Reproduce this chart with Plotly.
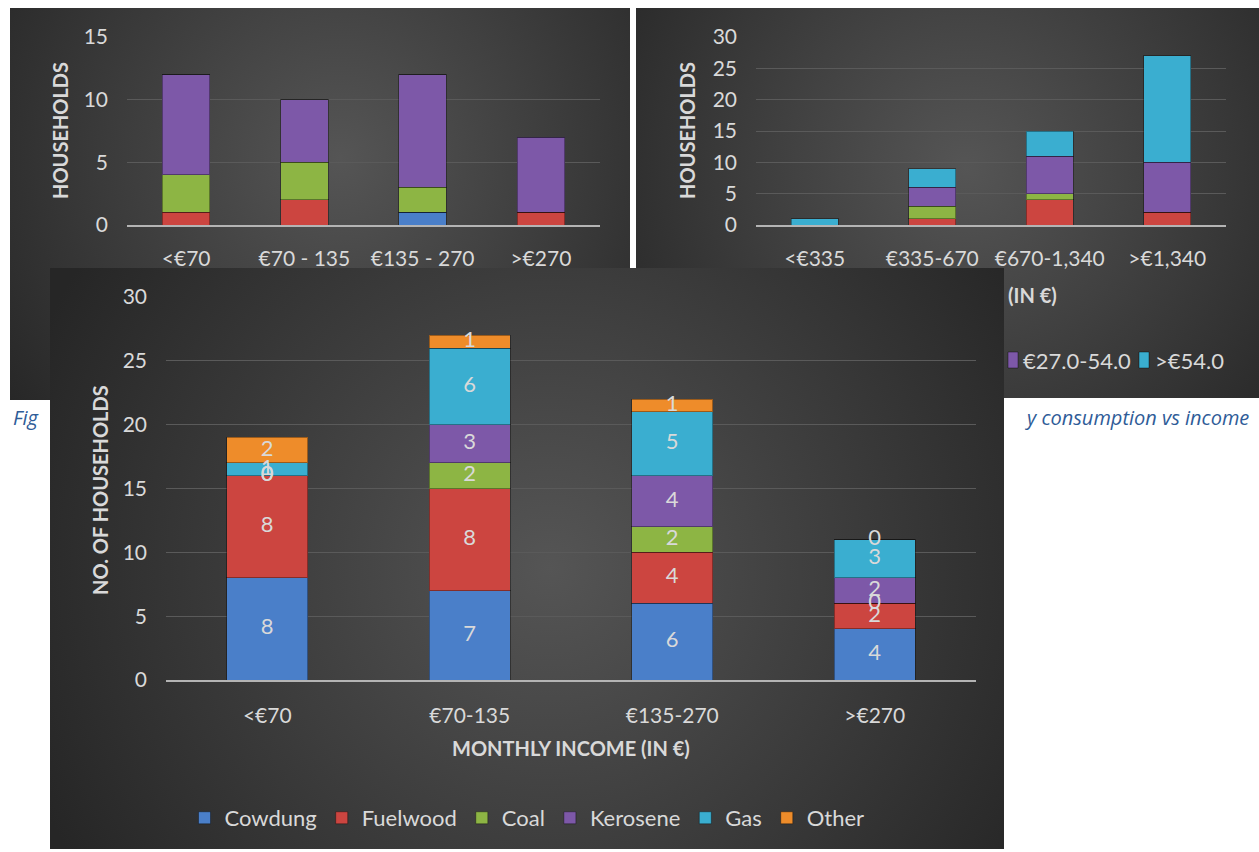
import base64
import plotly.graph_objects as go

W, H = 1259, 852

# ---- top-left panel: households by income band ----
a_cats = ["<€70", "€70 - 135", "€135 - 270", ">€270"]
a_band1 = [0, 0, 1, 0]
a_band2 = [1, 2, 0, 1]
a_band3 = [3, 3, 2, 0]
a_band4 = [8, 5, 9, 6]
a_band5 = [0, 0, 0, 0]

# ---- top-right panel: households by income band ----
b_cats = ["<€335", "€335-670", "€670-1,340", ">€1,340"]
b_band1 = [0, 0, 0, 0]
b_band2 = [0, 1, 4, 2]
b_band3 = [0, 2, 1, 0]
b_band4 = [0, 3, 6, 8]
b_band5 = [1, 3, 4, 17]

band_names = ["Band 1", "Band 2", "Band 3", "€27.0-54.0", ">€54.0"]

# ---- main panel: cooking fuel vs monthly income ----
c_cats = ["<€70", "€70-135", "€135-270", ">€270"]
fuel_names = ["Cowdung", "Fuelwood", "Coal", "Kerosene", "Gas", "Other"]
cowdung = [8, 7, 6, 4]
fuelwood = [8, 8, 4, 2]
coal = [0, 2, 2, 0]
kerosene = [0, 3, 4, 2]
gas = [1, 6, 5, 3]
other = [2, 1, 1, 0]

colors = ["#4a7fc9", "#cc4540", "#8db544", "#7d58a8", "#3aaed0", "#ee8c2a"]
TXT = "#d9d9d9"
GRID = "#5a5a5a"
AXLINE = "#b4b4b4"
FONT = "Lato, Open Sans, sans-serif"


def px_x(x):
    return x / W


def px_y(y):
    return 1 - y / H


def gradient(w, h, cx, cy, r, inner, outer):
    svg = (
        f'<svg xmlns="http://www.w3.org/2000/svg" width="{w}" height="{h}" '
        f'viewBox="0 0 {w} {h}" preserveAspectRatio="none"><defs>'
        f'<radialGradient id="g" gradientUnits="userSpaceOnUse" cx="{cx}" cy="{cy}" r="{r}">'
        f'<stop offset="0" stop-color="{inner}"/><stop offset="1" stop-color="{outer}"/>'
        f'</radialGradient></defs><rect width="{w}" height="{h}" fill="url(#g)"/></svg>'
    )
    return "data:image/svg+xml;base64," + base64.b64encode(svg.encode()).decode()


def panel(x0, y0, x1, y1, cx, cy, r):
    return dict(
        source=gradient(x1 - x0, y1 - y0, cx, cy, r, "#555555", "#262626"),
        xref="paper", yref="paper",
        x=px_x(x0), y=px_y(y0),
        sizex=(x1 - x0) / W, sizey=(y1 - y0) / H,
        xanchor="left", yanchor="top", sizing="stretch", layer="below",
    )


fig = go.Figure()

bar_line = dict(color="rgba(0,0,0,0.35)", width=1)

for name, vals, col in zip(band_names, [a_band1, a_band2, a_band3, a_band4, a_band5], colors):
    fig.add_trace(go.Bar(x=a_cats, y=vals, name=name, marker=dict(color=col, line=bar_line),
                         xaxis="x", yaxis="y", showlegend=False))

for name, vals, col in zip(band_names, [b_band1, b_band2, b_band3, b_band4, b_band5], colors):
    fig.add_trace(go.Bar(x=b_cats, y=vals, name=name, marker=dict(color=col, line=bar_line),
                         xaxis="x2", yaxis="y2", showlegend=False))

fuel_vals = [cowdung, fuelwood, coal, kerosene, gas, other]
for name, vals, col in zip(fuel_names, fuel_vals, colors):
    fig.add_trace(go.Bar(x=c_cats, y=vals, name=name, marker=dict(color=col, line=bar_line),
                         xaxis="x3", yaxis="y3"))

# value labels at the middle of each stacked segment
base = [0] * len(c_cats)
lab_x, lab_y, lab_t = [], [], []
for vals in fuel_vals:
    for j, v in enumerate(vals):
        lab_x.append(c_cats[j])
        lab_y.append(base[j] + v / 2)
        lab_t.append(str(v))
        base[j] += v
fig.add_trace(go.Scatter(x=lab_x, y=lab_y, text=lab_t, mode="text",
                         textfont=dict(family=FONT, size=22, color=TXT),
                         xaxis="x3", yaxis="y3", showlegend=False, hoverinfo="skip"))

tick_font = dict(family=FONT, size=21, color=TXT)


def xax(x0, x1, standoff):
    return dict(domain=[px_x(x0), px_x(x1)], tickfont=tick_font,
                showgrid=False, showline=True, linecolor=AXLINE, linewidth=2,
                ticks="", ticklabelstandoff=standoff, fixedrange=True)


def yax(y0, y1, top, standoff):
    return dict(domain=[px_y(y1), px_y(y0)], range=[0, top], dtick=5, tickfont=tick_font,
                showgrid=True, gridcolor=GRID, gridwidth=1, zeroline=False,
                showline=False, ticks="", ticklabelstandoff=standoff, fixedrange=True)


xa = xax(127, 600, 14); xa["anchor"] = "y"
xb = xax(756, 1226, 14); xb["anchor"] = "y2"
xc = xax(166, 976, 16); xc["anchor"] = "y3"
ya = yax(37, 225, 15, 18); ya["anchor"] = "x"
yb = yax(37, 225, 30, 18); yb["anchor"] = "x2"
yc = yax(297, 680, 30, 18); yc["anchor"] = "x3"

title_font = dict(family=FONT, size=20, color=TXT, weight="bold")
cap_font = dict(family="Open Sans, sans-serif", size=20, color="#2f5c98", style="italic")
key_font = dict(family=FONT, size=22, color=TXT)

annotations = [
    dict(text="HOUSEHOLDS", x=px_x(60), y=px_y(131), textangle=-90, font=title_font),
    dict(text="HOUSEHOLDS", x=px_x(687), y=px_y(131), textangle=-90, font=title_font),
    dict(text="(IN €)", x=px_x(1006), y=px_y(295), xanchor="left", font=title_font),
    dict(text="NO. OF HOUSEHOLDS", x=px_x(100), y=px_y(490), textangle=-90, font=title_font),
    dict(text="MONTHLY INCOME (IN €)", x=px_x(571), y=px_y(748), font=title_font),
    dict(text="Fig", x=px_x(11), y=px_y(417), xanchor="left", font=cap_font),
    dict(text="y consumption vs income", x=px_x(1251), y=px_y(417), xanchor="right", font=cap_font),
    # key entries of the top-right panel
    dict(text=band_names[3], x=px_x(1021), y=px_y(360), xanchor="left", font=key_font),
    dict(text=band_names[4], x=px_x(1153), y=px_y(360), xanchor="left", font=key_font),
]
for a in annotations:
    a.update(xref="paper", yref="paper", showarrow=False)
    a.setdefault("xanchor", "center")
    a.setdefault("yanchor", "middle")

key_boxes = [
    dict(type="rect", xref="paper", yref="paper",
         x0=px_x(1008), x1=px_x(1018), y0=px_y(368), y1=px_y(352),
         fillcolor=colors[3], line=dict(color="rgba(0,0,0,0.4)", width=1), layer="above"),
    dict(type="rect", xref="paper", yref="paper",
         x0=px_x(1139), x1=px_x(1149), y0=px_y(368), y1=px_y(352),
         fillcolor=colors[4], line=dict(color="rgba(0,0,0,0.4)", width=1), layer="above"),
]

fig.update_layout(
    width=W, height=H, autosize=False,
    margin=dict(l=0, r=0, t=0, b=0, autoexpand=False),
    paper_bgcolor="white", plot_bgcolor="rgba(0,0,0,0)",
    barmode="stack", bargap=0.6,
    xaxis=xa, yaxis=ya, xaxis2=xb, yaxis2=yb, xaxis3=xc, yaxis3=yc,
    images=[
        panel(10, 8, 630, 400, 330, 150, 420),
        panel(636, 8, 1259, 398, 330, 160, 420),
        panel(50, 268, 1004, 849, 500, 300, 560),
    ],
    shapes=key_boxes,
    legend=dict(orientation="h", xref="container", yref="container",
                x=px_x(527), xanchor="center", y=px_y(818), yanchor="middle",
                font=dict(family=FONT, size=22, color=TXT), bgcolor="rgba(0,0,0,0)",
                traceorder="normal"),
    annotations=annotations,
    hovermode=False,
)

fig.write_html("out.html")
